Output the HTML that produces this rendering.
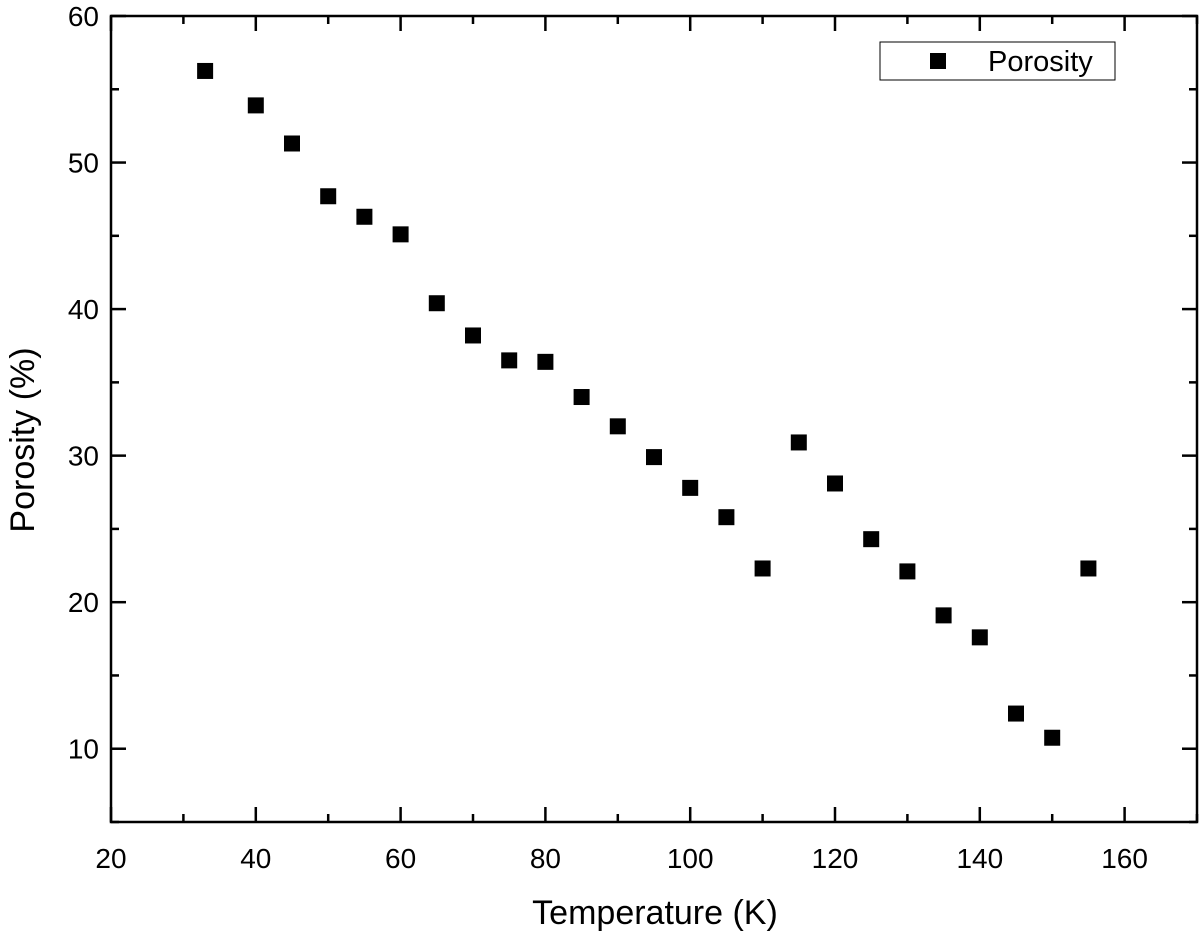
<!DOCTYPE html>
<html><head><meta charset="utf-8"><style>body{margin:0;background:#fff}svg{display:block}text{font-family:"Liberation Sans",Arial,sans-serif;fill:#000}</style></head>
<body>
<svg id="c" width="1200" height="936"></svg>
<script>
const temps=[33,40,45,50,55,60,65,70,75,80,85,90,95,100,105,110,115,120,125,130,135,140,145,150,155];
const porosity=[56.25,53.9,51.3,47.7,46.3,45.1,40.4,38.2,36.5,36.4,34.0,32.0,29.9,27.8,25.8,22.3,30.9,28.1,24.3,22.1,19.1,17.6,12.4,10.75,22.3];
const xTicks=[20,40,60,80,100,120,140,160];
const yTicks=[10,20,30,40,50,60];
const L=111,R=1197,T=16,B=822,X0=20,X1=170,Y0=5,Y1=60;
const sx=v=>L+(v-X0)/(X1-X0)*(R-L), sy=v=>B-(v-Y0)/(Y1-Y0)*(B-T);
const svg=document.getElementById('c');const NS='http://www.w3.org/2000/svg';
function mk(t,a,p){const e=document.createElementNS(NS,t);for(const k in a)e.setAttribute(k,a[k]);(p||svg).appendChild(e);return e;}
const frame=mk('rect',{x:L,y:T,width:R-L,height:B-T,fill:'none',stroke:'#000','stroke-width':2.5});


for(let v=20;v<=170;v+=10){const x=sx(v),len=(v%20===0)?15:8;
 mk('line',{x1:x,y1:B,x2:x,y2:B-len,stroke:'#000','stroke-width':2.5});
 mk('line',{x1:x,y1:T,x2:x,y2:T+len,stroke:'#000','stroke-width':2.5});}
for(let v=5;v<=60;v+=5){const y=sy(v),len=(v%10===0)?15:8;
 mk('line',{x1:L,y1:y,x2:L+len,y2:y,stroke:'#000','stroke-width':2.5});
 mk('line',{x1:R,y1:y,x2:R-len,y2:y,stroke:'#000','stroke-width':2.5});}
xTicks.forEach(v=>{const t=mk('text',{x:sx(v),y:B+46,'text-anchor':'middle','font-size':28});t.textContent=v;
 
 });
yTicks.forEach(v=>{const t=mk('text',{x:L-12,y:sy(v)+10,'text-anchor':'end','font-size':28});t.textContent=v;
 
 });
const xt=mk('text',{x:655,y:924,'text-anchor':'middle','font-size':34});xt.textContent='Temperature (K)';


const yt=mk('text',{x:0,y:0,'text-anchor':'middle','font-size':34,transform:'translate(34,440) rotate(-90)'});yt.textContent='Porosity (%)';


temps.forEach((t,i)=>{const r=mk('rect',{x:sx(t)-8,y:sy(porosity[i])-8,width:16,height:16,fill:'#000'});
 
 });
const lg=mk('g',{});


mk('rect',{x:880,y:42,width:235,height:38,fill:'#fff',stroke:'#000','stroke-width':1},lg);
mk('rect',{x:930,y:53,width:16,height:16,fill:'#000'},lg);
const lt=mk('text',{x:988,y:71,'font-size':29},lg);lt.textContent='Porosity';
</script>
</body></html>
